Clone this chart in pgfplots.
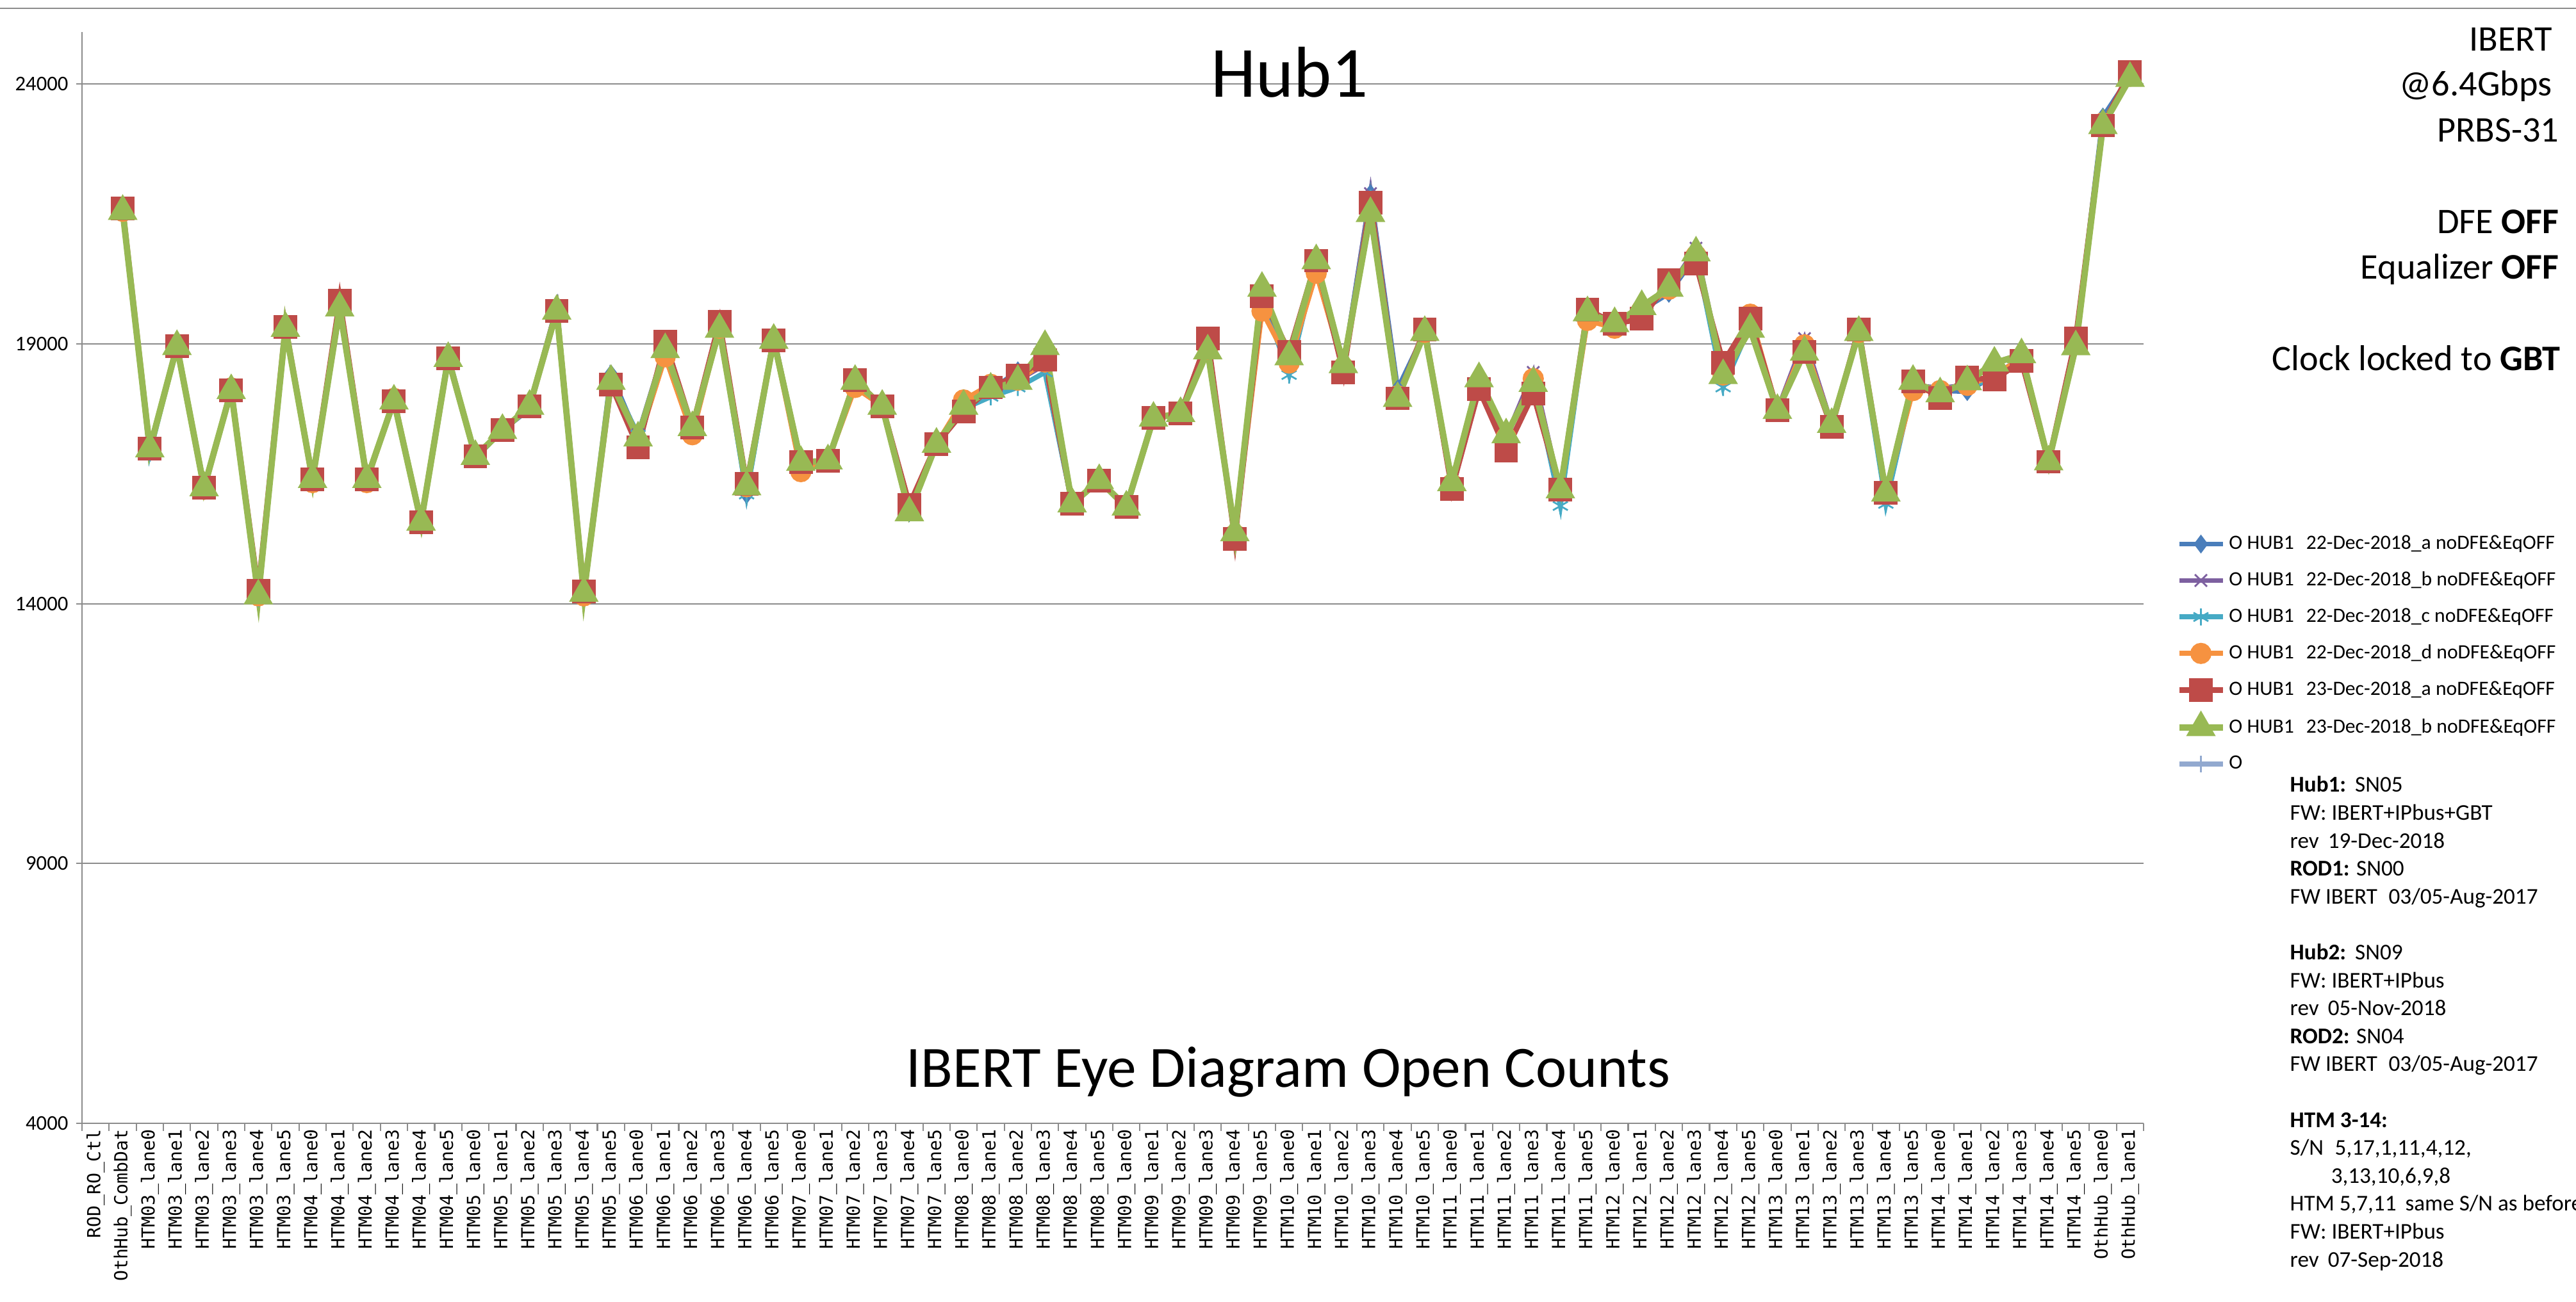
\documentclass[border=0pt]{standalone}
\usepackage{pgfplots}
\pgfplotsset{compat=1.18}
\usepackage{pgfplotstable}
\usepackage{fontspec}
\setmainfont{Carlito}
\newfontfamily\monofont{DejaVu Sans Mono}
\definecolor{cB}{HTML}{4A7EBB}
\definecolor{cP}{HTML}{7D60A0}
\definecolor{cC}{HTML}{46AAC5}
\definecolor{cO}{HTML}{F69240}
\definecolor{cR}{HTML}{BE4B48}
\definecolor{cG}{HTML}{98B954}
\definecolor{cL}{HTML}{92A9CF}
\definecolor{gridc}{HTML}{8C8C8C}

\pgfplotstableread{
x B P C O R G
1 21550 21550 21550 21550 21600 21550
2 16980 16980 16900 16980 16980 16980
3 18950 18950 18950 18950 18950 18950
4 16230 16230 16230 16200 16230 16230
5 18100 18100 18100 18150 18100 18100
6 14200 14200 14100 14150 14250 14150
7 19300 19300 19300 19300 19330 19300
8 16390 16390 16390 16330 16390 16390
9 19750 19750 19750 19800 19835 19690
10 16390 16390 16390 16330 16390 16390
11 17900 17900 17900 17950 17900 17900
12 15570 15620 15570 15570 15570 15570
13 18780 18720 18720 18720 18720 18720
14 16800 16835 16835 16835 16835 16835
15 17335 17335 17335 17335 17335 17335
16 17750 17800 17800 17800 17800 17800
17 19700 19700 19630 19630 19630 19630
18 14200 14200 14180 14150 14230 14200
19 18420 18300 18300 18250 18220 18280
20 17190 17250 17250 17100 17010 17190
21 18950 18950 18900 18750 19040 18890
22 17400 17400 17400 17250 17390 17390
23 19350 19350 19300 19300 19420 19280
24 16100 16200 16100 16250 16300 16250
25 19120 19120 19070 19070 19070 19070
26 16720 16720 16720 16540 16720 16720
27 16750 16750 16750 16750 16750 16750
28 18280 18280 18280 18160 18300 18280
29 17800 17800 17800 17800 17800 17800
30 15750 15800 15800 15800 15900 15750
31 17100 17070 17070 17070 17070 17070
32 17800 17800 17750 17920 17700 17800
33 18100 18050 17980 18220 18160 18130
34 18480 18300 18160 18300 18390 18280
35 18550 18600 18450 18650 18690 18950
36 15920 15920 15920 15920 15920 15920
37 16370 16370 16370 16370 16370 16370
38 15860 15860 15860 15860 15860 15860
39 17570 17570 17570 17570 17570 17570
40 17660 17660 17660 17690 17660 17660
41 18900 18900 18900 18900 19100 18865
42 15330 15330 15330 15330 15250 15365
43 19900 19900 19900 19630 19920 20070
44 18700 18700 18400 18630 18840 18750
45 20550 20550 20550 20360 20600 20600
46 18550 18550 18550 18550 18450 18600
47 21890 21890 21800 21600 21720 21510
48 18130 18000 18000 18000 17950 17950
49 19220 19220 19220 19220 19280 19220
50 16300 16300 16300 16300 16210 16330
51 18250 18250 18250 18250 18130 18330
52 17200 17200 17200 17200 16950 17250
53 18300 18450 18300 18330 18040 18240
54 16150 16150 15880 16190 16190 16190
55 19600 19600 19600 19450 19660 19600
56 19390 19390 19390 19300 19390 19390
57 19650 19650 19650 19650 19480 19720
58 19970 20050 20050 20050 20220 20070
59 20700 20840 20700 20700 20540 20750
60 18400 18400 18160 18400 18630 18390
61 19350 19350 19350 19570 19480 19280
62 17720 17720 17720 17720 17720 17720
63 18900 19100 18900 18980 18840 18840
64 17450 17450 17450 17450 17400 17450
65 19220 19220 19220 19220 19280 19220
66 16130 16130 15920 16130 16130 16130
67 18200 18200 18200 18100 18280 18280
68 18100 18150 18100 18100 17960 18040
69 18080 18200 18200 18200 18350 18270
70 18400 18400 18310 18400 18310 18630
71 18720 18720 18720 18720 18670 18790
72 16730 16730 16730 16730 16730 16730
73 19000 19000 19000 19000 19100 18945
74 23365 23250 23250 23250 23200 23200
75 24150 24150 24150 24150 24230 24110
}\datatable

\begin{document}
\begin{tikzpicture}
\path[use as bounding box] (0,0) rectangle (40.21,20.32);
\draw[gridc, line width=0.6pt] (0,20.19) -- (40.21,20.19);
\begin{axis}[
  at={(1.28cm,2.78cm)}, anchor=south west,
  scale only axis, width=32.18cm, height=17.04cm,
  xmin=-0.5, xmax=75.5, ymin=4000, ymax=25000,
  axis x line*=bottom, axis y line*=left,
  axis line style={-, draw=gridc, line width=0.7pt},
  ytick={4000,9000,14000,19000,24000},
  yticklabels={4000,9000,14000,19000,24000},
  yticklabel style={font=\fontsize{9.3}{11}\selectfont},
  xtick={0,...,75},
  xticklabels={ROD\_RO\_Ctl,OthHub\_CombDat,
    HTM03\_lane0,HTM03\_lane1,HTM03\_lane2,HTM03\_lane3,HTM03\_lane4,HTM03\_lane5,
    HTM04\_lane0,HTM04\_lane1,HTM04\_lane2,HTM04\_lane3,HTM04\_lane4,HTM04\_lane5,
    HTM05\_lane0,HTM05\_lane1,HTM05\_lane2,HTM05\_lane3,HTM05\_lane4,HTM05\_lane5,
    HTM06\_lane0,HTM06\_lane1,HTM06\_lane2,HTM06\_lane3,HTM06\_lane4,HTM06\_lane5,
    HTM07\_lane0,HTM07\_lane1,HTM07\_lane2,HTM07\_lane3,HTM07\_lane4,HTM07\_lane5,
    HTM08\_lane0,HTM08\_lane1,HTM08\_lane2,HTM08\_lane3,HTM08\_lane4,HTM08\_lane5,
    HTM09\_lane0,HTM09\_lane1,HTM09\_lane2,HTM09\_lane3,HTM09\_lane4,HTM09\_lane5,
    HTM10\_lane0,HTM10\_lane1,HTM10\_lane2,HTM10\_lane3,HTM10\_lane4,HTM10\_lane5,
    HTM11\_lane0,HTM11\_lane1,HTM11\_lane2,HTM11\_lane3,HTM11\_lane4,HTM11\_lane5,
    HTM12\_lane0,HTM12\_lane1,HTM12\_lane2,HTM12\_lane3,HTM12\_lane4,HTM12\_lane5,
    HTM13\_lane0,HTM13\_lane1,HTM13\_lane2,HTM13\_lane3,HTM13\_lane4,HTM13\_lane5,
    HTM14\_lane0,HTM14\_lane1,HTM14\_lane2,HTM14\_lane3,HTM14\_lane4,HTM14\_lane5,
    OthHub\_lane0,OthHub\_lane1},
  xticklabel style={rotate=90, anchor=east, inner sep=0pt, font=\monofont\fontsize{8}{9}\selectfont},
  minor xtick={-0.5,0.5,...,75.5},
  tick align=outside,
  major tick length=2.6pt, minor tick length=3.4pt,
  major x tick style={draw=none},
  minor x tick style={draw=gridc, line width=0.6pt},
  ytick style={draw=gridc, line width=0.6pt},
  ymajorgrids, grid style={draw=gridc, line width=0.6pt},
  clip=false,
  legend style={at={(1.0155,0.540)}, anchor=north west, draw=none, fill=none,
    font=\fontsize{9}{10.8}\selectfont, inner sep=0pt, row sep=7.7pt,
    nodes={inner sep=0pt, text height=6.5pt, text depth=2pt},
    /tikz/every odd column/.append style={column sep=0.05cm}},
  legend cell align=left,
  legend image code/.code={\draw[mark repeat=2,mark phase=2] plot coordinates {(0cm,0cm) (0.34cm,0cm) (0.68cm,0cm)};},
]
\addplot[cB, line width=2.2pt, mark=diamond*, mark size=3.8pt, mark options={solid, fill=cB, draw=cB, line width=0.5pt}] table[x=x,y=B]{\datatable};
\addlegendentry{O HUB1\hspace{0.6em}22-Dec-2018\_a noDFE\&EqOFF}
\addplot[cP, line width=2.2pt, mark=x, mark size=3.8pt, mark options={solid, draw=cP, line width=0.8pt}] table[x=x,y=P]{\datatable};
\addlegendentry{O HUB1\hspace{0.6em}22-Dec-2018\_b noDFE\&EqOFF}
\addplot[cC, line width=2.2pt, mark=asterisk, mark size=3.8pt, mark options={solid, draw=cC, line width=0.8pt}] table[x=x,y=C]{\datatable};
\addlegendentry{O HUB1\hspace{0.6em}22-Dec-2018\_c noDFE\&EqOFF}
\addplot[cO, line width=2.2pt, mark=*, mark size=3.6pt, mark options={solid, fill=cO, draw=cO}] table[x=x,y=O]{\datatable};
\addlegendentry{O HUB1\hspace{0.6em}22-Dec-2018\_d noDFE\&EqOFF}
\addplot[cR, line width=2.5pt, mark=square*, mark size=4.0pt, mark options={solid, fill=cR, draw=cR}] table[x=x,y=R]{\datatable};
\addlegendentry{O HUB1\hspace{0.6em}23-Dec-2018\_a noDFE\&EqOFF}
\addplot[cG, line width=2.8pt, mark=triangle*, mark size=4.8pt, mark options={solid, fill=cG, draw=cG}] table[x=x,y=G]{\datatable};
\addlegendentry{O HUB1\hspace{0.6em}23-Dec-2018\_b noDFE\&EqOFF}
\addlegendimage{cL, line width=2.2pt, mark=|, mark size=3.6pt, mark options={solid, line width=0.8pt}}
\addlegendentry{O}
\end{axis}
% titles
\node[font=\fontsize{32}{38}\selectfont, anchor=base] at (20.13,18.80) {Hub1};
\node[font=\fontsize{26}{31}\selectfont, anchor=base] at (20.11,3.34) {IBERT Eye Diagram Open Counts};
% right top text
\begin{scope}[every node/.style={font=\fontsize{16}{19.5}\selectfont, anchor=base east, inner sep=0pt}]
\node at (39.85,19.52) {IBERT};
\node at (39.84,18.82) {@6.4Gbps};
\node at (39.95,18.10) {PRBS-31};
\node at (39.95,16.67) {DFE \textbf{OFF}};
\node at (39.95,15.96) {Equalizer \textbf{OFF}};
\node at (39.97,14.53) {Clock locked to \textbf{GBT}};
\end{scope}
% info text
\begin{scope}[every node/.style={font=\fontsize{10}{12.4}\selectfont, anchor=base west, inner sep=0pt}]
\node at (35.74,7.95) {\textbf{Hub1:}\hspace{0.4em}SN05};
\node at (35.74,7.514) {FW: IBERT+IPbus+GBT};
\node at (35.74,7.078) {rev\hspace{0.4em}19-Dec-2018};
\node at (35.74,6.642) {\textbf{ROD1:} SN00};
\node at (35.74,6.206) {FW IBERT\hspace{0.5em}03/05-Aug-2017};
\node at (35.74,5.334) {\textbf{Hub2:}\hspace{0.4em}SN09};
\node at (35.74,4.898) {FW: IBERT+IPbus};
\node at (35.74,4.462) {rev\hspace{0.4em}05-Nov-2018};
\node at (35.74,4.026) {\textbf{ROD2:} SN04};
\node at (35.74,3.590) {FW IBERT\hspace{0.5em}03/05-Aug-2017};
\node at (35.74,2.718) {\textbf{HTM 3-14:}};
\node at (35.74,2.282) {S/N\hspace{0.5em}5,17,1,11,4,12,};
\node at (36.38,1.846) {3,13,10,6,9,8};
\node at (35.74,1.410) {HTM 5,7,11\hspace{0.4em}same S/N as before};
\node at (35.74,0.974) {FW: IBERT+IPbus};
\node at (35.74,0.538) {rev\hspace{0.4em}07-Sep-2018};
\end{scope}
\end{tikzpicture}
\end{document}
